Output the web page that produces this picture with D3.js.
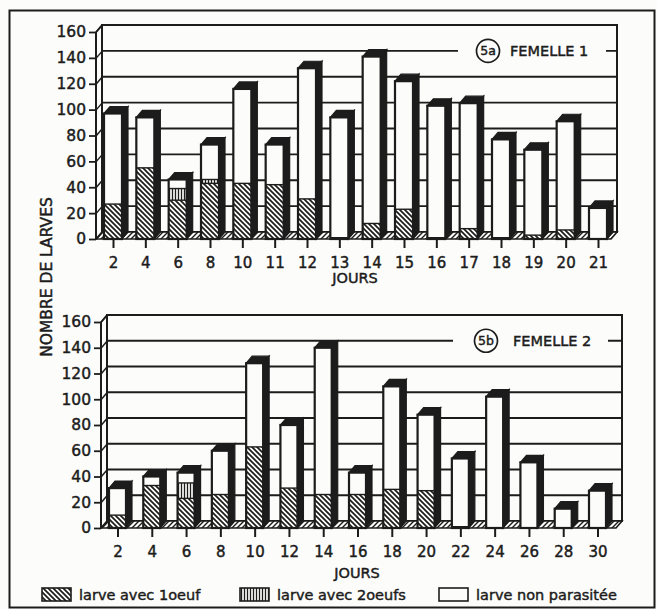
<!DOCTYPE html>
<html>
<head>
<meta charset="utf-8">
<script src="https://cdn.jsdelivr.net/npm/d3@7"></script>
<style>
  body { margin: 0; background: #fcfcfa; }
  svg { display: block; }
  text { font-family: "DejaVu Sans", sans-serif; fill: #1c1c1c; stroke: #1c1c1c; stroke-width: 0.45px; }
</style>
</head>
<body>
<svg id="chart" width="657" height="609"></svg>
<script>
// Femelle 1 : nombre de larves par jour
const joursA = [2, 4, 6, 8, 10, 11, 12, 13, 14, 15, 16, 17, 18, 19, 20, 21];
const unOeufA = [27, 55, 30, 43, 43, 42, 31, 1, 12, 23, 1, 8, 1, 3, 7, 0];
const deuxOeufsA = [0, 0, 9, 3, 0, 0, 0, 0, 0, 0, 0, 0, 0, 0, 0, 0];
const nonParasiteeA = [70, 39, 7, 27, 73, 31, 101, 93, 129, 99, 102, 97, 76, 66, 84, 24];

// Femelle 2 : nombre de larves par jour
const joursB = [2, 4, 6, 8, 10, 12, 14, 16, 18, 20, 22, 24, 26, 28, 30];
const unOeufB = [10, 33, 23, 26, 63, 31, 26, 26, 30, 29, 1, 0, 0, 0, 0];
const deuxOeufsB = [0, 0, 12, 0, 0, 0, 0, 0, 0, 0, 0, 0, 0, 0, 0];
const nonParasiteeB = [21, 7, 8, 34, 65, 49, 114, 17, 80, 59, 53, 102, 51, 15, 29];

const yTicks = [0, 20, 40, 60, 80, 100, 120, 140, 160];
const legendLabels = ["larve avec 1oeuf", "larve avec 2oeufs", "larve non parasitée"];
const INK = "#1c1c1c";
const BG = "#fcfcfa";

const svg = d3.select("#chart");
svg.append("rect").attr("width", 657).attr("height", 609).attr("fill", BG);

// Fill patterns: oblique hatching, vertical hatching, floor hatching
const defs = svg.append("defs");
const p1 = defs.append("pattern").attr("id", "hatch1").attr("patternUnits", "userSpaceOnUse")
  .attr("width", 5).attr("height", 5);
p1.append("rect").attr("width", 5).attr("height", 5).attr("fill", BG);
p1.append("path").attr("d", "M-1,-1 L6,6 M-1,4 L1,6 M4,-1 L6,1")
  .attr("stroke", INK).attr("stroke-width", 1.7);

const p2 = defs.append("pattern").attr("id", "hatch2").attr("patternUnits", "userSpaceOnUse")
  .attr("width", 3).attr("height", 3);
p2.append("rect").attr("width", 3).attr("height", 3).attr("fill", BG);
p2.append("line").attr("x1", 1.5).attr("x2", 1.5).attr("y1", 0).attr("y2", 3)
  .attr("stroke", INK).attr("stroke-width", 1.3);

const p3 = defs.append("pattern").attr("id", "floor").attr("patternUnits", "userSpaceOnUse")
  .attr("width", 5).attr("height", 5);
p3.append("rect").attr("width", 5).attr("height", 5).attr("fill", BG);
p3.append("path").attr("d", "M-1,6 L6,-1 M-1,1 L1,-1 M4,6 L6,4")
  .attr("stroke", INK).attr("stroke-width", 1.4);

const fills = { un: "url(#hatch1)", deux: "url(#hatch2)", non: BG };

// Outer frame
svg.append("rect").attr("x", 9.5).attr("y", 10.5).attr("width", 645).attr("height", 597)
  .attr("fill", "none").attr("stroke", INK).attr("stroke-width", 2);

function drawPanel(cfg, jours, un, deux, non) {
  const g = svg.append("g");
  const { axisX, right, dx, dy, barW } = cfg;
  const y = d3.scaleLinear().domain([0, 160]).range([cfg.y0, cfg.y160]);
  const x = d3.scalePoint().domain(jours).range(cfg.centers);
  const y0 = y(0);

  // back wall with horizontal rules
  g.append("rect").attr("x", axisX + dx).attr("y", y(160) - dy)
    .attr("width", right - axisX).attr("height", y(0) - y(160))
    .attr("fill", "none").attr("stroke", INK).attr("stroke-width", 2);
  g.selectAll(".grid").data(yTicks.slice(1, -1)).join("line")
    .attr("x1", axisX + dx).attr("x2", right + dx)
    .attr("y1", d => y(d) - dy).attr("y2", d => y(d) - dy)
    .attr("stroke", INK).attr("stroke-width", 1.8);

  // panel title sitting on the 140 rule
  const ty = y(140) - dy;
  g.append("rect").attr("x", cfg.gap[0]).attr("y", ty - 9).attr("width", cfg.gap[1] - cfg.gap[0])
    .attr("height", 18).attr("fill", BG);
  g.append("circle").attr("cx", cfg.circleX).attr("cy", ty).attr("r", 11.5)
    .attr("fill", BG).attr("stroke", INK).attr("stroke-width", 1.7);
  g.append("text").attr("x", cfg.circleX).attr("y", ty).attr("text-anchor", "middle")
    .attr("dominant-baseline", "central").attr("font-size", 12.5).text(cfg.tag);
  g.append("text").attr("x", cfg.titleX).attr("y", ty).attr("dominant-baseline", "central")
    .attr("font-size", 14.5).text(cfg.title);

  // floor
  g.append("path")
    .attr("d", `M${axisX},${y0} L${right},${y0} L${right + dx},${y0 - dy} L${axisX + dx},${y0 - dy} Z`)
    .attr("fill", "url(#floor)").attr("stroke", INK).attr("stroke-width", 1.6);

  // front vertical axis with ticks joined to the back wall
  g.append("line").attr("x1", axisX).attr("x2", axisX).attr("y1", y(160)).attr("y2", y0)
    .attr("stroke", INK).attr("stroke-width", 2);
  g.append("line").attr("x1", axisX).attr("x2", axisX + dx).attr("y1", y(160)).attr("y2", y(160) - dy)
    .attr("stroke", INK).attr("stroke-width", 1.6);
  const ya = g.append("g").attr("transform", `translate(${axisX},0)`)
    .call(d3.axisLeft(y).tickValues(yTicks).tickSize(7).tickPadding(3));
  ya.select(".domain").remove();
  ya.selectAll(".tick line").attr("stroke", INK).attr("stroke-width", 1.8);
  ya.selectAll(".tick").append("line").attr("x1", 0).attr("y1", 0).attr("x2", dx).attr("y2", -dy)
    .attr("stroke", INK).attr("stroke-width", 1.5);
  ya.selectAll(".tick text").attr("font-size", 15.5).attr("font-family", "DejaVu Sans")
    .attr("fill", INK);

  // bottom axis
  const xa = g.append("g").attr("transform", `translate(0,${y0})`)
    .call(d3.axisBottom(x).tickSize(9).tickPadding(9));
  xa.select(".domain").remove();
  xa.selectAll(".tick line").attr("stroke", INK).attr("stroke-width", 2);
  xa.selectAll(".tick text").attr("font-size", 15).attr("font-family", "DejaVu Sans").attr("fill", INK);
  g.append("text").attr("x", cfg.joursX).attr("y", cfg.joursY).attr("text-anchor", "middle")
    .attr("font-size", 14.5).text("JOURS");

  // stacked boxes
  const rows = jours.map((j, i) => ({ jour: j, un: un[i], deux: deux[i], non: non[i] }));
  const keys = ["un", "deux", "non"];
  const series = d3.stack().keys(keys)(rows);
  rows.forEach((r, i) => {
    const bx = x(r.jour) - barW / 2;
    const top = y(series[2][i][1]);
    const bar = g.append("g");
    bar.append("path")
      .attr("d", `M${bx + barW},${top} L${bx + barW + dx},${top - dy} L${bx + barW + dx},${y0 - dy} L${bx + barW},${y0} Z`)
      .attr("fill", INK).attr("stroke", INK).attr("stroke-width", 1.2);
    bar.append("path")
      .attr("d", `M${bx},${top} L${bx + dx},${top - dy} L${bx + barW + dx},${top - dy} L${bx + barW},${top} Z`)
      .attr("fill", INK).attr("stroke", INK).attr("stroke-width", 1.2);
    series.forEach((s, k) => {
      const [a, b] = s[i];
      if (b - a <= 0) return;
      bar.append("rect").attr("x", bx).attr("y", y(b)).attr("width", barW).attr("height", y(a) - y(b))
        .attr("fill", fills[keys[k]]);
      if (a > 0) bar.append("line").attr("x1", bx).attr("x2", bx + barW).attr("y1", y(a)).attr("y2", y(a))
        .attr("stroke", INK).attr("stroke-width", 1.4);
    });
    bar.append("rect").attr("x", bx).attr("y", top).attr("width", barW).attr("height", y0 - top)
      .attr("fill", "none").attr("stroke", INK).attr("stroke-width", 2.2);
  });
}

drawPanel({
  axisX: 96, right: 611, dx: 6, dy: 7, barW: 18,
  y0: 239, y160: 32, centers: [113, 598],
  joursX: 355, joursY: 283,
  gap: [458, 606], circleX: 488, titleX: 510, tag: "5a", title: "FEMELLE 1"
}, joursA, unOeufA, deuxOeufsA, nonParasiteeA);

drawPanel({
  axisX: 101, right: 616, dx: 6, dy: 7, barW: 17,
  y0: 528, y160: 322, centers: [117.5, 597.5],
  joursX: 357, joursY: 578,
  gap: [453, 608], circleX: 486, titleX: 513, tag: "5b", title: "FEMELLE 2"
}, joursB, unOeufB, deuxOeufsB, nonParasiteeB);

// vertical axis title shared by both panels
svg.append("text").attr("transform", "translate(52,277) rotate(-90)")
  .attr("text-anchor", "middle").attr("font-size", 15.5).text("NOMBRE DE LARVES");

// legend
const legendX = [42, 240, 439];
const legendFill = [fills.un, fills.deux, fills.non];
const lg = svg.append("g");
legendLabels.forEach((t, i) => {
  lg.append("rect").attr("x", legendX[i]).attr("y", 588).attr("width", 29).attr("height", 13)
    .attr("fill", legendFill[i]).attr("stroke", INK).attr("stroke-width", 1.6);
  lg.append("text").attr("x", legendX[i] + 37).attr("y", 600).attr("font-size", 14.5).text(t);
});
</script>
</body>
</html>
